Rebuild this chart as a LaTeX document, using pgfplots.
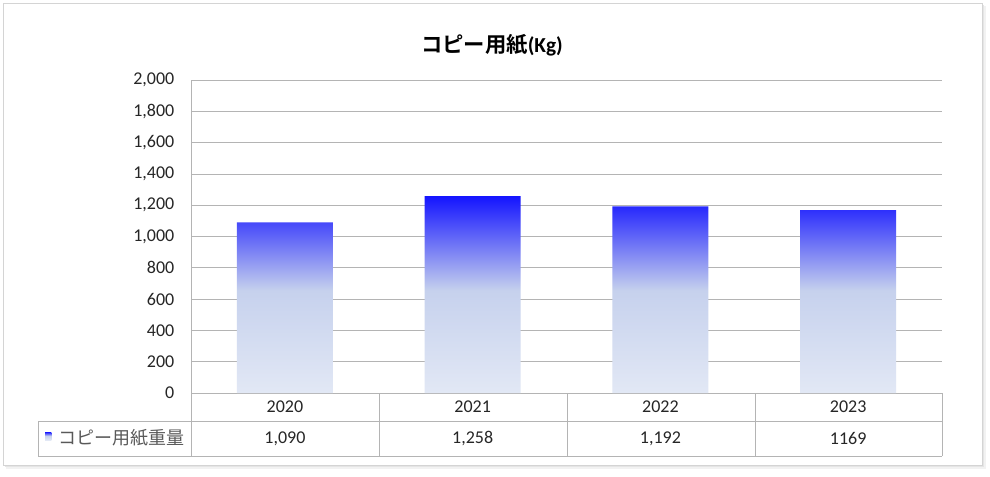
\documentclass[border=0pt]{standalone}
\usepackage{pgfplots}
\pgfplotsset{compat=1.18}
\usepackage{fontspec}
\setmainfont{Carlito}
\newfontfamily\jp{Noto Sans CJK JP}[BoldFont={Noto Sans CJK JP Bold}]
\definecolor{gridc}{HTML}{B4B4B4}
\definecolor{framec}{HTML}{D4D4D4}
\definecolor{txt}{HTML}{262626}
\definecolor{legtxt}{HTML}{595959}
\definecolor{c0}{HTML}{E2E8F5}
\definecolor{c1}{HTML}{C6D1ED}
\definecolor{c3}{HTML}{1414FF}
\pgfdeclareverticalshading{barshade}{100bp}{color(0bp)=(c0); color(25bp)=(c0); color(51bp)=(c1); color(75bp)=(c3); color(100bp)=(c3)}
\begin{document}
\begin{tikzpicture}
\useasboundingbox (0,0) rectangle (742.5pt,-357pt);
% frame shadow
\fill[black!5] (4.5pt,-4.5pt) rectangle (739.5pt,-351.5pt);
\fill[black!10] (3.75pt,-3.75pt) rectangle (738.2pt,-350.2pt);
\draw[draw=framec, fill=white] (2.25pt,-2.25pt) rectangle (736.5pt,-348.75pt);
% title
\node[font={\bfseries\fontsize{16pt}{18pt}\selectfont}, text=black] at (369pt,-33.75pt) {{\jp\bfseries コピー用紙}(Kg)};
\begin{axis}[
  at={(143.25pt,-294.75pt)}, anchor=south west,
  scale only axis, width=563.25pt, height=234.75pt,
  ymin=0, ymax=2000, ytick={0,200,...,2000},
  xmin=-0.5, xmax=3.5, xtick=\empty,
  axis x line*=bottom, axis y line*=left,
  axis line style={draw=gridc, -},
  ymajorgrids, grid style={gridc, line width=0.6pt},
  major tick length=0pt,
  /pgf/number format/assume math mode=true,
  /pgf/number format/1000 sep={,},
  yticklabel style={font=\fontsize{13.5pt}{15pt}\selectfont, text=txt, xshift=-9pt},
  clip=false,
]
\addplot[ybar, bar width=0.51, bar shift=0pt, draw=none, shading=barshade]
  coordinates {(0,1090) (1,1258) (2,1192) (3,1169)};
\foreach \i/\yr/\v in {0/2020/{1,090}, 1/2021/{1,258}, 2/2022/{1,192}, 3/2023/{1169}} {
  \edef\tmp{\noexpand\node[font=\noexpand\fontsize{13.5pt}{15pt}\noexpand\selectfont, text=txt] at (axis cs:\i,0) [yshift=-10.5pt] {\yr};}\tmp
  \edef\tmp{\noexpand\node[font=\noexpand\fontsize{13.5pt}{15pt}\noexpand\selectfont, text=txt] at (axis cs:\i,0) [yshift=-34.1pt] {\v};}\tmp
}
\end{axis}
% data table
\draw[gridc, line width=0.6pt] (28.5pt,-315.75pt) -- (706.5pt,-315.75pt);
\draw[gridc, line width=0.6pt] (28.5pt,-342pt) -- (706.5pt,-342pt);
\draw[gridc, line width=0.6pt] (28.5pt,-315.75pt) -- (28.5pt,-342pt);
\foreach \x in {143.25,284.25,425.25,566.25,706.5} {
  \draw[gridc, line width=0.6pt] (\x pt,-294.75pt) -- (\x pt,-342pt);
}
% legend key
\shade[shading=barshade] (33.75pt,-324pt) rectangle (38.5pt,-330pt);
\node[anchor=west, inner sep=0pt, text=legtxt, font={\jp\fontsize{13.5pt}{15pt}\selectfont}] at (44pt,-328.6pt) {コピー用紙重量};
\end{tikzpicture}
\end{document}
